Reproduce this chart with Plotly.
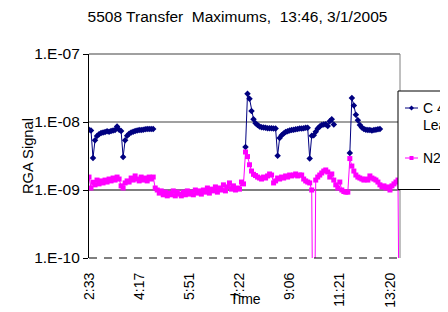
import plotly.graph_objects as go

# ---------------- data (values in units of 1e-9) ----------------
SCALE = 1e-9
tick_index = [0, 25, 50, 75, 100, 125, 150]
tick_labels = ["2:33", "4:17", "5:51", "7:22", "9:06", "11:21", "13:20"]

c4_leak = (
    [7.7, 7.5, 2.95, 5.4, 6.2, 6.6, 6.9, 7.0, 7.1, 7.3, 7.2, 7.4, 7.5, 7.6, 8.6, 7.7,
     7.4, 3.05, 5.4, 6.3, 6.7, 7.0, 7.2, 7.35, 7.5, 7.6, 7.6, 7.7, 7.8, 7.9, 7.9, 7.9, 7.9]
    + [None] * 45
    + [4.3, 26, 22, 14.5, 11.0, 9.6, 9.0, 8.6, 8.4, 8.3, 8.2, 8.1, 8.1, 8.1, 8.0, 8.0,
       3.2, 5.8, 6.4, 6.8, 7.1, 7.3, 7.5, 7.6, 7.7, 7.8, 7.9, 8.0, 8.0, 8.1, 8.2, 8.2,
       2.9, 6.3, 6.4, 7.2, 8.0, 8.6, 9.0, 9.2, 9.3, 8.7, 10.3, 11.0, 9.2]
    + [None] * 7
    + [3.5, 22.5, 17.5, 12.8, 10.6, 9.0, 8.3, 7.9, 7.7, 7.6, 7.6, 7.5, 7.6, 7.7, 7.8, 7.9]
    + [None] * 10
)

n2 = (
    [1.55, 1.07, 1.30, 1.19, 1.40, 1.23, 1.36, 1.27, 1.40, 1.31, 1.45, 1.36, 1.50, 1.40,
     1.55, 1.45, 1.15, 1.07, 1.27, 1.36, 1.31, 1.50, 1.40, 1.61, 1.45, 1.36, 1.55, 1.40,
     1.50, 1.36, 1.55, 1.45, 1.55, 1.07]
    + [1.0, 0.9, 0.97, 0.85, 0.93, 0.82, 0.9, 0.85, 0.97, 0.82, 0.93, 0.87, 0.82, 0.93,
       0.85, 0.97, 0.87, 0.93, 0.85, 1.0, 0.9, 0.97, 0.87, 1.0, 0.93, 1.07, 0.9, 1.03,
       0.97, 1.11, 0.93, 1.07, 1.0, 1.19, 0.97, 1.11, 1.27, 1.03, 1.15, 1.0, 1.07, 1.03,
       1.31, 1.23]
    + [3.62, 3.1, 2.35, 1.9, 1.7, 1.63, 1.55, 1.50, 1.45, 1.55, 1.50, 1.61, 1.72, 1.66,
       1.27, 1.36, 1.50, 1.45, 1.55, 1.50, 1.61, 1.55, 1.66, 1.61, 1.66, 1.72, 1.61, 1.66,
       1.66, 1.45, 1.36, 1.31, 1.27, 1.0]
    + [0.0001]
    + [1.40, 1.55, 1.66, 1.78, 1.90, 1.97, 1.84, 1.55, 1.72, 1.40, 1.19, 1.07, 1.31, 1.0,
       0.95, 0.93, 0.93]
    + [2.9, 2.25, 1.9, 1.66, 1.55, 1.50, 1.45, 1.40, 1.45, 1.40, 1.61, 1.50, 1.45, 1.40,
       1.31, 1.19, 1.11, 1.15, 1.07, 1.11, 1.0, 1.15, 1.23, 1.31, 1.40]
    + [0.0001]
)

x = list(range(len(n2)))

# ---------------- layout helpers ----------------
# The page body has an 8px default margin, so the figure is drawn 8px in
# from the window's top-left corner; window pixel coordinates are shifted.
OFF = 8
W, H = 448 - OFF, 312 - OFF
L, R, T, B = 89 - OFF, 400 - OFF, 54 - OFF, 258 - OFF
FONT = "Liberation Sans, Arial, sans-serif"
BLUE = "#000080"
MAG = "#FF00FF"


def px(xp):
    return (xp - OFF - L) / (R - L)


def py(yp):
    return (B - (yp - OFF)) / (B - T)


fig = go.Figure()
fig.add_trace(go.Scatter(
    x=x, y=[v * SCALE if v is not None else None for v in c4_leak],
    mode="lines+markers", name="C 4 Leak", showlegend=False,
    line=dict(color=BLUE, width=1),
    marker=dict(symbol="diamond", size=5, color=BLUE, line=dict(width=0)),
))
fig.add_trace(go.Scatter(
    x=x, y=[v * SCALE for v in n2],
    mode="lines+markers", name="N2", showlegend=False,
    line=dict(color=MAG, width=1),
    marker=dict(symbol="square", size=5, color=MAG, line=dict(width=0)),
))

shapes = [
    dict(type="line", xref="paper", yref="paper", x0=0, x1=1, y0=1, y1=1,
         line=dict(color="#808080", width=1.3), layer="below"),
    dict(type="line", xref="paper", yref="paper", x0=0, x1=1, y0=2 / 3, y1=2 / 3,
         line=dict(color="#808080", width=1.3), layer="below"),
    dict(type="line", xref="paper", yref="paper", x0=0, x1=1, y0=1 / 3, y1=1 / 3,
         line=dict(color="black", width=1.2), layer="below"),
    dict(type="line", xref="paper", yref="paper", x0=1, x1=1, y0=0, y1=1,
         line=dict(color="#808080", width=1), layer="below"),
    dict(type="line", xref="paper", yref="paper", x0=0, x1=1, y0=0, y1=0,
         line=dict(color="black", width=1.2, dash="8px,7px"), layer="above"),
    # legend box
    dict(type="rect", xref="paper", yref="paper", x0=px(398), x1=px(480),
         y0=py(189.5), y1=py(91), line=dict(color="black", width=1),
         fillcolor="white", layer="above"),
    dict(type="line", xref="paper", yref="paper", x0=px(405), x1=px(418),
         y0=py(108), y1=py(108), line=dict(color=BLUE, width=1), layer="above"),
    dict(type="path", xref="paper", yref="paper",
         path=f"M {px(411.5)},{py(105.5)} L {px(414)},{py(108)} L {px(411.5)},{py(110.5)} L {px(409)},{py(108)} Z",
         line=dict(width=0), fillcolor=BLUE, layer="above"),
    dict(type="line", xref="paper", yref="paper", x0=px(405), x1=px(418),
         y0=py(158), y1=py(158), line=dict(color=MAG, width=1), layer="above"),
    dict(type="rect", xref="paper", yref="paper", x0=px(409.5), x1=px(413.5),
         y0=py(160), y1=py(156), line=dict(width=0), fillcolor=MAG, layer="above"),
]

annotations = [
    dict(text="C 4", xref="paper", yref="paper", x=px(421), y=py(108),
         xanchor="left", yanchor="middle", showarrow=False,
         font=dict(family=FONT, size=14, color="black")),
    dict(text="Leak", xref="paper", yref="paper", x=px(421), y=py(125),
         xanchor="left", yanchor="middle", showarrow=False,
         font=dict(family=FONT, size=14, color="black")),
    dict(text="N2", xref="paper", yref="paper", x=px(421), y=py(158),
         xanchor="left", yanchor="middle", showarrow=False,
         font=dict(family=FONT, size=14, color="black")),
    dict(text="RGA Signal", xref="paper", yref="paper", x=px(28), y=0.5,
         xanchor="center", yanchor="middle", textangle=-90, showarrow=False,
         font=dict(family=FONT, size=14.7, color="black")),
    dict(text="Time", xref="paper", yref="paper", x=px(246), y=py(299),
         xanchor="center", yanchor="middle", showarrow=False,
         font=dict(family=FONT, size=14, color="black")),
]

fig.update_layout(
    width=W, height=H,
    margin=dict(l=L, r=W - R, t=T, b=H - B, autoexpand=False),
    paper_bgcolor="white", plot_bgcolor="white",
    showlegend=False,
    title=dict(text="5508 Transfer  Maximums,  13:46, 3/1/2005",
               x=(237.5 - OFF) / W, xref="container", xanchor="center",
               y=1 - (16.5 - OFF) / H, yref="container", yanchor="middle",
               font=dict(family=FONT, size=15.5, color="black")),
    font=dict(family=FONT, color="black"),
    shapes=shapes, annotations=annotations,
    xaxis=dict(range=[0, len(n2) - 1], tickmode="array", tickvals=tick_index,
               ticktext=tick_labels, tickangle=-90, showgrid=False,
               showline=False, zeroline=False, ticks="",
               ticklabelstandoff=11,
               tickfont=dict(family=FONT, size=14, color="black")),
    yaxis=dict(type="log", range=[-10, -7], tickmode="array",
               tickvals=[1e-10, 1e-9, 1e-8, 1e-7],
               ticktext=["1.E-10", "1.E-09", "1.E-08", "1.E-07"],
               showgrid=False, zeroline=False, showline=True,
               linecolor="black", linewidth=1.2,
               ticks="outside", ticklen=5, tickcolor="black", tickwidth=1,
               tickfont=dict(family=FONT, size=15.5, color="black")),
)

fig.write_html("out.html")
